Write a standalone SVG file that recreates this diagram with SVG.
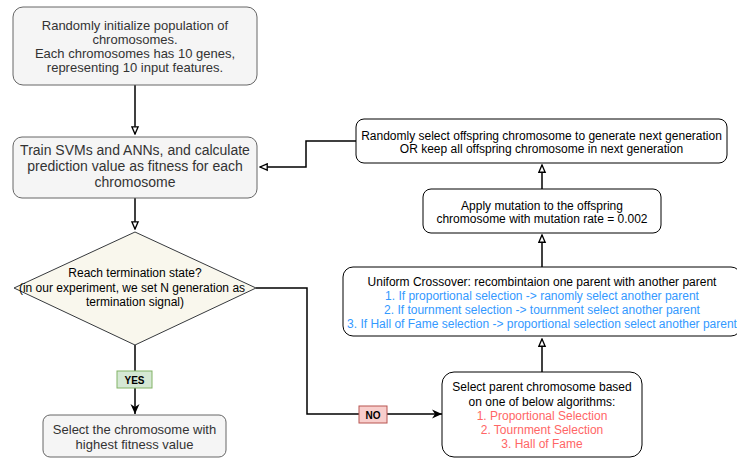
<svg xmlns="http://www.w3.org/2000/svg" width="737" height="460" viewBox="0 0 737 460">
<style>
text{font-family:"Liberation Sans",Arial,Helvetica,sans-serif;font-size:12px;text-anchor:middle}
.grey{fill:#f5f5f5;stroke:#666666;stroke-width:1}
.gt{fill:#333333;font-size:13px}
.gt14{fill:#333333;font-size:14px}
.wb{fill:#ffffff;stroke:#000000;stroke-width:1}
.bt{fill:#000000}
.blue{fill:#3399ff}
.red{fill:#ff6666}
.conn{fill:none;stroke:#000000;stroke-width:1.5}
.lbl{font-size:10px;font-weight:bold;fill:#000000}
</style>
<defs>
<marker id="open" viewBox="0 0 10 10" refX="9" refY="5" markerWidth="9" markerHeight="9" markerUnits="userSpaceOnUse" orient="auto">
<path d="M1,1.5 L9,5 L1,8.5 Z" fill="#ffffff" stroke="#000000" stroke-width="1.5"/>
</marker>
<marker id="fill" viewBox="0 0 10 10" refX="10" refY="5" markerWidth="10" markerHeight="10" markerUnits="userSpaceOnUse" orient="auto">
<path d="M0,0.5 L10,5 L0,9.5 L3,5 Z" fill="#000000"/>
</marker>
</defs>

<g id="connectors">
<path class="conn" d="M135,85 L135,134" marker-end="url(#open)"/>
<path class="conn" d="M135,198 L135,229" marker-end="url(#open)"/>
<path class="conn" d="M135,345 L135,414" marker-end="url(#fill)"/>
<path class="conn" d="M256,288 L307,288 L307,414 L442,414" marker-end="url(#fill)"/>
<path class="conn" d="M542,372 L542,339" marker-end="url(#open)"/>
<path class="conn" d="M542,267 L542,235" marker-end="url(#open)"/>
<path class="conn" d="M542,189 L542,165" marker-end="url(#open)"/>
<path class="conn" d="M356,141 L306,141 L306,167 L260,167" marker-end="url(#open)"/>
</g>

<g id="init">
<rect class="grey" x="13" y="7" width="244" height="78" rx="10"/>
<text class="gt" x="135" y="29.5">Randomly initialize population of</text>
<text class="gt" x="135" y="43.5">chromosomes.</text>
<text class="gt" x="135" y="57.5">Each chromosomes has 10 genes,</text>
<text class="gt" x="135" y="71.5">representing 10 input features.</text>
</g>

<g id="train">
<rect class="grey" x="13" y="137" width="244" height="61" rx="9"/>
<text class="gt14" x="135" y="155">Train SVMs and ANNs, and calculate</text>
<text class="gt14" x="135" y="171">prediction value as fitness for each</text>
<text class="gt14" x="135" y="187">chromosome</text>
</g>

<g id="decision">
<path d="M135,232 L256,288 L135,345 L14,288 Z" fill="#f9f7ed" stroke="#36393d" stroke-width="1"/>
<text class="bt" x="135" y="277">Reach termination state?</text>
<text class="bt" x="132" y="292">(in our experiment, we set N generation as</text>
<text class="bt" x="135" y="306">termination signal)</text>
</g>

<g id="yes">
<rect x="117" y="371" width="35" height="17" fill="#d5e8d4" stroke="#82b366" stroke-width="1"/>
<text class="lbl" x="134.5" y="383.5">YES</text>
</g>

<g id="final">
<rect class="grey" x="43" y="415" width="183" height="42" rx="7"/>
<text class="gt" x="134.5" y="433.5">Select the chromosome with</text>
<text class="gt" x="134.5" y="448.5">highest fitness value</text>
</g>

<g id="no">
<rect x="359" y="406" width="28" height="17" fill="#f8cecc" stroke="#b85450" stroke-width="1"/>
<text class="lbl" x="373" y="418.5">NO</text>
</g>

<g id="select">
<rect class="wb" x="442" y="372" width="200" height="85" rx="12"/>
<text class="bt" x="542" y="391">Select parent chromosome based</text>
<text class="bt" x="542" y="406">on one of below algorithms:</text>
<text class="red" x="542" y="420">1. Proportional Selection</text>
<text class="red" x="542" y="434">2. Tournment Selection</text>
<text class="red" x="542" y="448">3. Hall of Fame</text>
</g>

<g id="crossover">
<rect class="wb" x="343" y="267" width="398" height="69" rx="10"/>
<text class="bt" x="542" y="286">Uniform Crossover: recombintaion one parent with another parent</text>
<text class="blue" x="542" y="300">1. If proportional selection -&gt; ranomly select another parent</text>
<text class="blue" x="542" y="314">2. If tournment selection -&gt; tournment select another parent</text>
<text class="blue" x="542" y="328">3. If Hall of Fame selection -&gt; proportional selection select another parent</text>
</g>

<g id="mutation">
<rect class="wb" x="423" y="189" width="238" height="44" rx="8"/>
<text class="bt" x="542" y="210">Apply mutation to the offspring</text>
<text class="bt" x="542" y="223">chromosome with mutation rate = 0.002</text>
</g>

<g id="nextgen">
<rect class="wb" x="356" y="119" width="371" height="44" rx="8"/>
<text class="bt" x="541.5" y="140">Randomly select offspring chromosome to generate next generation</text>
<text class="bt" x="541.5" y="153">OR keep all offspring chromosome in next generation</text>
</g>
</svg>
